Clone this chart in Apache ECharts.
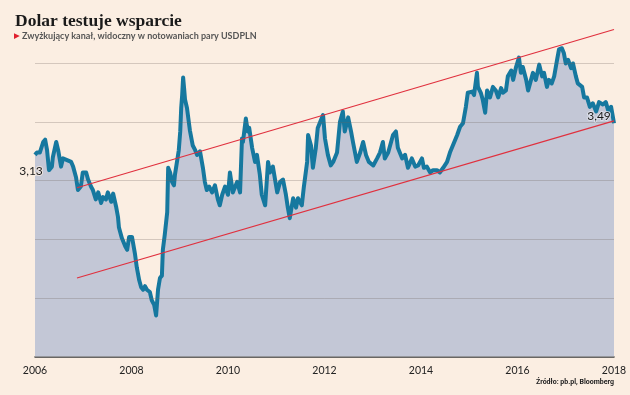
<!DOCTYPE html>
<html>
<head>
<meta charset="utf-8">
<script src="https://cdn.jsdelivr.net/npm/echarts@6/dist/echarts.min.js"></script>
<style>
html,body{margin:0;padding:0;background:#fbeee2;}
#c{width:630px;height:395px;}
</style>
</head>
<body>
<div id="c"></div>
<script>
const titleText = 'Dolar testuje wsparcie';
const subtitleText = 'Zwyżkujący kanał, widoczny w notowaniach pary USDPLN';
const sourceText = 'Źródło: pb.pl, Bloomberg';
const yearTicks = [2006, 2008, 2010, 2012, 2014, 2016, 2018];
const gridValues = [2, 2.5, 3, 3.5, 4];
const startLabel = { coord: [2006, 3.08], text: '3,13' };
const endLabel = { coord: [2018, 3.49], text: '3,49' };
const channelUpper = [[2006.87, 2.94], [2018, 4.29]];
const channelLower = [[2006.87, 2.17], [2018, 3.51]];
const usdpln = [
[2006.00,3.22],[2006.04,3.24],[2006.10,3.24],[2006.17,3.33],[2006.21,3.35],[2006.25,3.26],[2006.29,3.09],[2006.35,3.12],[2006.37,3.20],[2006.44,3.33],[2006.48,3.26],[2006.54,3.12],[2006.58,3.19],[2006.64,3.18],[2006.68,3.19],[2006.75,3.16],[2006.79,3.12],[2006.85,3.03],[2006.89,2.92],[2006.95,2.95],[2006.99,3.07],
[2007.06,3.07],[2007.10,3.01],[2007.16,2.95],[2007.20,2.92],[2007.26,2.84],[2007.31,2.90],[2007.37,2.81],[2007.41,2.86],[2007.47,2.84],[2007.51,2.90],[2007.58,2.82],[2007.62,2.89],[2007.68,2.78],[2007.72,2.69],[2007.74,2.60],[2007.80,2.51],[2007.87,2.44],[2007.91,2.41],[2007.95,2.52],
[2008.01,2.52],[2008.07,2.38],[2008.11,2.26],[2008.16,2.15],[2008.20,2.09],[2008.24,2.07],[2008.28,2.10],[2008.32,2.07],[2008.38,2.05],[2008.42,1.98],[2008.47,1.94],[2008.51,1.85],[2008.55,2.07],[2008.59,2.17],[2008.63,2.19],[2008.65,2.41],[2008.69,2.54],[2008.74,2.73],[2008.76,3.11],[2008.80,3.07],[2008.84,2.99],[2008.88,2.96],[2008.90,3.05],[2008.94,3.05],[2008.98,3.26],
[2009.01,3.42],[2009.03,3.62],[2009.05,3.73],[2009.07,3.88],[2009.09,3.79],[2009.11,3.69],[2009.15,3.62],[2009.21,3.43],[2009.27,3.30],[2009.32,3.26],[2009.36,3.22],[2009.42,3.25],[2009.48,3.11],[2009.52,2.99],[2009.56,2.92],[2009.61,2.95],[2009.67,2.90],[2009.73,2.96],[2009.79,2.84],[2009.83,2.79],[2009.88,2.88],[2009.94,2.95],
[2010.00,2.88],[2010.04,3.07],[2010.10,2.90],[2010.19,2.99],[2010.25,2.90],[2010.29,3.36],[2010.31,3.33],[2010.37,3.53],[2010.41,3.42],[2010.44,3.45],[2010.50,3.28],[2010.56,3.16],[2010.60,3.22],[2010.66,3.05],[2010.70,2.88],[2010.77,2.79],[2010.83,3.16],[2010.87,3.07],[2010.93,3.12],
[2011.02,2.90],[2011.08,2.99],[2011.14,3.01],[2011.20,2.88],[2011.24,2.77],[2011.28,2.68],[2011.35,2.85],[2011.41,2.77],[2011.45,2.85],[2011.53,2.79],[2011.57,2.94],[2011.64,3.16],[2011.66,3.39],[2011.72,3.30],[2011.76,3.11],[2011.82,3.28],[2011.86,3.45],[2011.91,3.50],[2011.97,3.56],
[2012.01,3.36],[2012.07,3.22],[2012.13,3.13],[2012.18,3.16],[2012.26,3.24],[2012.32,3.50],[2012.38,3.59],[2012.42,3.42],[2012.49,3.54],[2012.55,3.42],[2012.59,3.33],[2012.67,3.16],[2012.74,3.24],[2012.80,3.33],[2012.86,3.22],[2012.92,3.16],
[2013.01,3.13],[2013.09,3.19],[2013.15,3.24],[2013.21,3.33],[2013.25,3.19],[2013.32,3.24],[2013.38,3.33],[2013.42,3.39],[2013.48,3.42],[2013.52,3.28],[2013.61,3.19],[2013.67,3.22],[2013.73,3.11],[2013.81,3.19],[2013.88,3.12],[2013.94,3.13],
[2014.02,3.19],[2014.06,3.11],[2014.12,3.12],[2014.19,3.07],[2014.25,3.09],[2014.33,3.09],[2014.39,3.07],[2014.46,3.11],[2014.54,3.16],[2014.60,3.24],[2014.66,3.30],[2014.75,3.39],[2014.81,3.46],[2014.87,3.49],[2014.93,3.63],[2014.97,3.75],
[2015.06,3.76],[2015.10,3.73],[2015.16,3.92],[2015.18,3.80],[2015.24,3.75],[2015.28,3.69],[2015.33,3.58],[2015.37,3.77],[2015.43,3.71],[2015.49,3.80],[2015.55,3.77],[2015.60,3.71],[2015.66,3.79],[2015.70,3.75],[2015.76,3.77],[2015.80,3.89],[2015.87,3.94],[2015.91,3.86],[2015.97,3.97],
[2016.03,4.05],[2016.07,3.92],[2016.11,3.97],[2016.18,3.86],[2016.22,3.77],[2016.28,3.86],[2016.32,3.92],[2016.38,3.86],[2016.45,3.99],[2016.51,3.89],[2016.55,3.92],[2016.61,3.80],[2016.65,3.86],[2016.71,3.83],[2016.76,3.89],[2016.82,4.03],[2016.86,4.12],[2016.92,4.13],[2016.96,4.09],
[2017.00,4.00],[2017.05,4.03],[2017.11,3.96],[2017.15,4.00],[2017.21,3.89],[2017.25,3.83],[2017.34,3.80],[2017.38,3.71],[2017.44,3.71],[2017.50,3.63],[2017.56,3.66],[2017.63,3.59],[2017.69,3.67],[2017.77,3.65],[2017.83,3.67],[2017.88,3.60],[2017.94,3.63],[2018.00,3.49]
];

const chart = echarts.init(document.getElementById('c'), null, {renderer: 'canvas'});
chart.setOption({
  backgroundColor: '#fbeee2',
  animation: false,
  title: [
    {
      text: titleText,
      left: 15, top: 12, padding: 0,
      textStyle: {fontFamily: 'Liberation Serif', fontWeight: 'bold', fontSize: 17.5, color: '#1a1a1a'}
    },
    {
      text: '{t|▶}{s| ' + subtitleText + '}',
      left: 14, top: 32, padding: 0,
      textStyle: {
        rich: {
          t: {color: '#e0202e', fontSize: 7.5, fontFamily: 'DejaVu Sans'},
          s: {color: '#555555', fontSize: 9, fontFamily: 'Lato'}
        }
      }
    },
    {
      text: sourceText,
      right: 16, top: 379, padding: 0,
      textStyle: {fontFamily: 'Roboto', fontWeight: 'bold', fontSize: 7, color: '#222'}
    }
  ],
  grid: {left: 35, right: 16, top: 28.3, bottom: 38.5, containLabel: false},
  xAxis: {
    type: 'value', min: yearTicks[0], max: yearTicks[yearTicks.length - 1], interval: 2,
    axisLine: {show: true, lineStyle: {color: '#3a3a3a', width: 1.5}},
    axisTick: {show: false},
    splitLine: {show: false},
    axisLabel: {color: '#222', fontSize: 10.5, fontFamily: 'Lato', margin: 9, formatter: v => String(v)}
  },
  yAxis: {
    type: 'value', min: 1.5, max: 4.3,
    axisLine: {show: false}, axisTick: {show: false}, axisLabel: {show: false}, splitLine: {show: false}
  },
  series: [
    {
      type: 'line', data: usdpln, symbol: 'none', z: 2,
      lineStyle: {color: '#16789f', width: 4, join: 'round'},
      areaStyle: {color: '#c3c7d6', opacity: 1, origin: 'start'},
      markLine: {
        silent: true, symbol: 'none', z: 3,
        label: {show: false},
        lineStyle: {color: 'rgba(110,100,95,0.28)', width: 1, type: 'solid'},
        data: gridValues.map(v => ({yAxis: v}))
      },
      markPoint: {
        silent: true, symbol: 'circle', symbolSize: 0, z: 6,
        data: [
          {coord: startLabel.coord, label: {show: true, formatter: startLabel.text, position: 'inside', offset: [-4, 0], color: '#1a1a1a', fontSize: 12, fontFamily: 'Lato', textBorderColor: 'rgba(251,238,226,0.7)', textBorderWidth: 2}},
          {coord: endLabel.coord, label: {show: true, formatter: endLabel.text, position: 'top', offset: [-15, 0], distance: 1, color: '#1a1a1a', fontSize: 12, fontFamily: 'Lato', textBorderColor: 'rgba(230,232,240,0.7)', textBorderWidth: 2}}
        ]
      }
    },
    {
      type: 'line', data: channelUpper, symbol: 'none', z: 4, silent: true,
      lineStyle: {color: '#e0303e', width: 1.2}
    },
    {
      type: 'line', data: channelLower, symbol: 'none', z: 4, silent: true,
      lineStyle: {color: '#e0303e', width: 1.2}
    }
  ]
});
</script>
</body>
</html>
